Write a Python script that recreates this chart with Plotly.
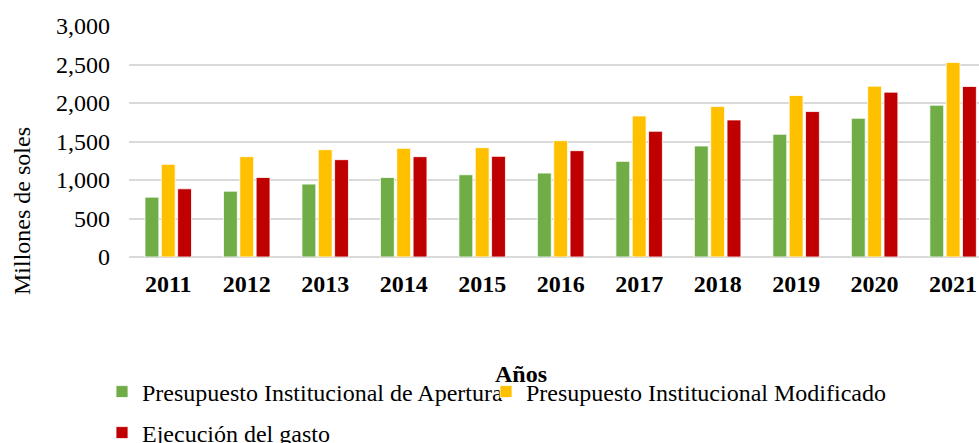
import plotly.graph_objects as go

anios = ['2011', '2012', '2013', '2014', '2015', '2016', '2017', '2018', '2019', '2020', '2021']
pia = [777, 855, 947, 1033, 1068, 1090, 1242, 1442, 1594, 1802, 1971]
pim = [1203, 1303, 1394, 1411, 1420, 1511, 1832, 1954, 2097, 2219, 2527]
ejecucion = [886, 1033, 1264, 1303, 1307, 1381, 1633, 1780, 1889, 2141, 2215]

fuente = 'Liberation Serif'

# pixel -> paper coords (plot spans 129..979 x 26..257)
def px_x(p):
    return (p - 129) / 850

def px_y(p):
    return (257 - p) / 231

fig = go.Figure()
fig.add_trace(go.Bar(x=anios, y=pia, name='Presupuesto Institucional de Apertura',
                     marker=dict(color='#70AD47', line=dict(color='white', width=0.8)), legend='legend'))
fig.add_trace(go.Bar(x=anios, y=pim, name='Presupuesto Institucional Modificado',
                     marker=dict(color='#FFC000', line=dict(color='white', width=0.8)), legend='legend2'))
fig.add_trace(go.Bar(x=anios, y=ejecucion, name='Ejecución del gasto',
                     marker=dict(color='#C00000', line=dict(color='white', width=0.8)), legend='legend3'))

leg = dict(orientation='h', xanchor='left', yanchor='middle', bgcolor='rgba(0,0,0,0)',
           font=dict(family=fuente, size=24, color='black'))

fig.update_layout(
    width=979, height=443,
    margin=dict(l=129, r=0, t=26, b=186, autoexpand=False),
    plot_bgcolor='white', paper_bgcolor='white',
    barmode='group', bargap=0.376, bargroupgap=0.15,
    font=dict(family=fuente, size=24, color='black'),
    xaxis=dict(range=[-0.5, 10.33], showgrid=False, showline=False, zeroline=False,
               automargin=False,
               tickfont=dict(family=fuente, size=24, color='black', weight='bold'),
               ticklabelstandoff=10),
    yaxis=dict(range=[0, 3000], dtick=500, tickformat=',', showgrid=True, gridcolor='#d9d9d9',
               gridwidth=1.5, zeroline=True, zerolinecolor='#d9d9d9', zerolinewidth=1.5,
               showline=False, automargin=False,
               tickfont=dict(family=fuente, size=24, color='black'),
               ticklabelstandoff=18),
    legend=dict(leg, x=px_x(102), y=px_y(392)),
    legend2=dict(leg, x=px_x(486), y=px_y(392)),
    legend3=dict(leg, x=px_x(102), y=px_y(433)),
    showlegend=True,
)

fig.add_annotation(text='Millones de soles', textangle=-90, xref='paper', yref='paper',
                   x=px_x(22), y=px_y(211), xanchor='center', yanchor='middle', showarrow=False,
                   font=dict(family=fuente, size=24, color='black'))
fig.add_annotation(text='<b>Años</b>', xref='paper', yref='paper',
                   x=px_x(521), y=px_y(374), xanchor='center', yanchor='middle', showarrow=False,
                   font=dict(family=fuente, size=24, color='black'))

# quitar el margen por defecto del body para que la figura ocupe toda la ventana
fig.write_html('out.html', config={'displayModeBar': False},
               post_script="document.body.style.margin='0';")
